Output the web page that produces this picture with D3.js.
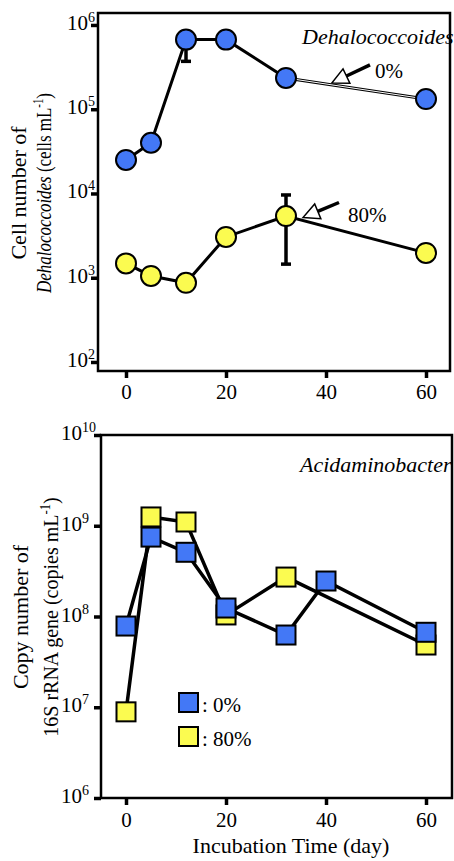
<!DOCTYPE html>
<html>
<head>
<meta charset="utf-8">
<script src="https://cdn.jsdelivr.net/npm/d3@7"></script>
<style>
  body { margin: 0; background: #fff; }
  svg { display: block; font-family: "Liberation Serif", "Times New Roman", serif; }
</style>
</head>
<body>
<div id="chart"></div>
<script>
// --- data ---
var dehaloDays = [0, 5, 12, 20, 32, 60];
var dehalo0 = [2.5e4, 4.0e4, 6.7e5, 6.7e5, 2.35e5, 1.32e5];
var dehalo80 = [1.48e3, 1.05e3, 8.7e2, 3.05e3, 5.4e3, 1.97e3];
var dehaloErr0 = [{ day: 12, lo: 3.7e5, hi: null }];
var dehaloErr80 = [{ day: 32, lo: 1.45e3, hi: 9.6e3 }];

var acidDays0 = [0, 5, 12, 20, 32, 40, 60];
var acid0 = [7.85e7, 7.5e8, 5.1e8, 1.24e8, 6.25e7, 2.46e8, 6.7e7];
var acidDays80 = [0, 5, 12, 20, 32, 60];
var acid80 = [8.9e6, 1.25e9, 1.1e9, 1.04e8, 2.72e8, 4.85e7];

var dayTicks = [0, 20, 40, 60];
var topExps = [2, 3, 4, 5, 6];
var botExps = [6, 7, 8, 9, 10];

var BLUE = "#4378f6", YELLOW = "#fbfb50";

var svg = d3.select("#chart").append("svg")
  .attr("width", 454)
  .attr("height", 861);

function zip(xs, ys) { return xs.map(function(d, i) { return { day: d, v: ys[i] }; }); }

// value on a log-scale polyline at a given day
function logInterp(xs, ys, day) {
  for (var i = 0; i < xs.length - 1; i++) {
    if (day >= xs[i] && day <= xs[i + 1]) {
      var t = (day - xs[i]) / (xs[i + 1] - xs[i]);
      return Math.pow(10, Math.log10(ys[i]) + t * (Math.log10(ys[i + 1]) - Math.log10(ys[i])));
    }
  }
  return ys[ys.length - 1];
}

function frame(x, y, exps, xPad, labelX) {
  var g = svg.append("g");
  var x0 = x.range()[0], x1 = x.range()[1], yb = y.range()[0], yt = y.range()[1];

  g.append("g")
    .attr("transform", "translate(0," + yb + ")")
    .call(d3.axisBottom(x).tickValues(dayTicks).tickSize(7).tickPadding(xPad))
    .call(function(a) {
      a.select(".domain").remove();
      a.selectAll("line").attr("stroke-width", 3.5);
      a.selectAll("text").attr("font-size", 21).attr("font-family", "Liberation Serif, serif").attr("fill", "#000");
    });

  g.append("g")
    .attr("transform", "translate(" + x0 + ",0)")
    .call(d3.axisLeft(y).tickValues(exps.map(function(e) { return Math.pow(10, e); })).tickSize(7).tickFormat(""))
    .call(function(a) {
      a.select(".domain").remove();
      a.selectAll("line").attr("stroke-width", 3.5);
    });

  var lab = g.selectAll(".ylab").data(exps).enter().append("text")
    .attr("x", labelX)
    .attr("y", function(e) { return y(Math.pow(10, e)) + 5; })
    .attr("font-size", 21)
    .attr("fill", "#000");
  lab.append("tspan").text("10");
  lab.append("tspan").attr("dy", -8).attr("font-size", 14).text(function(e) { return e; });

  g.append("rect")
    .attr("x", x0).attr("y", yt)
    .attr("width", x1 - x0).attr("height", yb - yt)
    .attr("fill", "none").attr("stroke", "#000").attr("stroke-width", 2.5);
  return g;
}

function ylabel(cy, sx1, sx2, dx1, dx2, build1, build2) {
  var t1 = svg.append("text")
    .attr("transform", "translate(" + dx1 + "," + cy + ") rotate(-90) scale(" + sx1 + ",1)")
    .attr("text-anchor", "middle").attr("font-size", 22).attr("fill", "#000");
  build1(t1);
  var t2 = svg.append("text")
    .attr("transform", "translate(" + dx2 + "," + cy + ") rotate(-90) scale(" + sx2 + ",1)")
    .attr("text-anchor", "middle").attr("font-size", 22).attr("fill", "#000");
  build2(t2);
}

function unitTail(t, word) {
  t.append("tspan").text(" (" + word + " mL");
  t.append("tspan").attr("dy", -8).attr("font-size", 14).text("-1");
  t.append("tspan").attr("dy", 8).text(")");
}

var line = function(x, y) {
  return d3.line().x(function(d) { return x(d.day); }).y(function(d) { return y(d.v); });
};

// ================= top panel: Dehalococcoides =================
var xT = d3.scaleLinear().domain([-5.6, 64.8]).range([98, 450]);
var yT = d3.scaleLog().domain([Math.pow(10, 1.893), Math.pow(10, 6.142)]).range([371, 13]);
var gT = frame(xT, yT, topExps, 6, 67);

var lT = line(xT, yT);
[dehalo0, dehalo80].forEach(function(s) {
  gT.append("path").datum(zip(dehaloDays, s))
    .attr("d", lT).attr("fill", "none").attr("stroke", "#000").attr("stroke-width", 3);
});
// hollow look of the last 0% segment
gT.append("path").datum(zip(dehaloDays.slice(4), dehalo0.slice(4)))
  .attr("d", lT).attr("fill", "none").attr("stroke", "#fff").attr("stroke-width", 1);

function errBars(g, errs, vals, x, y) {
  errs.forEach(function(e) {
    var cx = x(e.day), mid = vals[dehaloDays.indexOf(e.day)];
    [e.lo, e.hi].forEach(function(v) {
      if (v == null) return;
      g.append("line").attr("x1", cx).attr("x2", cx)
        .attr("y1", y(v)).attr("y2", y(mid))
        .attr("stroke", "#000").attr("stroke-width", 3.5);
      g.append("line").attr("x1", cx - 5).attr("x2", cx + 5)
        .attr("y1", y(v)).attr("y2", y(v))
        .attr("stroke", "#000").attr("stroke-width", 3.5);
    });
  });
}
errBars(gT, dehaloErr0, dehalo0, xT, yT);
errBars(gT, dehaloErr80, dehalo80, xT, yT);

[[dehalo0, BLUE], [dehalo80, YELLOW]].forEach(function(p) {
  gT.selectAll(null).data(zip(dehaloDays, p[0])).enter().append("circle")
    .attr("cx", function(d) { return xT(d.day); })
    .attr("cy", function(d) { return yT(d.v); })
    .attr("r", 10)
    .attr("fill", p[1]).attr("stroke", "#000").attr("stroke-width", 2);
});

// arrow annotations
function arrow(g, tx, ty, dx, dy, label, lx, ly) {
  var len = Math.sqrt(dx * dx + dy * dy), ux = dx / len, uy = dy / len;
  var hl = 16, hw = 8;
  var bx = tx + ux * hl, by = ty + uy * hl;
  g.append("line").attr("x1", bx).attr("y1", by).attr("x2", tx + dx).attr("y2", ty + dy)
    .attr("stroke", "#000").attr("stroke-width", 3.5);
  g.append("path")
    .attr("d", "M" + tx + "," + ty + "L" + (bx - uy * hw) + "," + (by + ux * hw) +
      "L" + (bx + uy * hw) + "," + (by - ux * hw) + "Z")
    .attr("fill", "#fff").attr("stroke", "#000").attr("stroke-width", 1.5);
  g.append("text").attr("x", tx + lx).attr("y", ty + ly)
    .attr("font-size", 21).attr("fill", "#000").text(label);
}
arrow(gT, xT(41.2), yT(logInterp(dehaloDays, dehalo0, 41.2)) - 2, 38, -18, "0%", 43, -5);
arrow(gT, xT(35.4), yT(logInterp(dehaloDays, dehalo80, 35.4)) - 3, 36, -15, "80%", 45, 4);

gT.append("text").attr("x", 302).attr("y", 44)
  .attr("font-size", 22).attr("font-style", "italic").attr("fill", "#000")
  .text("Dehalococcoides");

ylabel(193, 1, 0.77, 26, 51,
  function(t) { t.text("Cell number of"); },
  function(t) {
    t.append("tspan").attr("font-style", "italic").text("Dehalococcoides");
    unitTail(t, "cells");
  });

// ================= bottom panel: Acidaminobacter =================
var xB = d3.scaleLinear().domain([-5, 65.2]).range([101, 452]);
var yB = d3.scaleLog().domain([1e6, 1e10]).range([798, 435]);
var gB = frame(xB, yB, botExps, 7, 61);

var lB = line(xB, yB);
gB.append("path").datum(zip(acidDays80, acid80))
  .attr("d", lB).attr("fill", "none").attr("stroke", "#000").attr("stroke-width", 3.5);
gB.append("path").datum(zip(acidDays0, acid0))
  .attr("d", lB).attr("fill", "none").attr("stroke", "#000").attr("stroke-width", 3.5);

var SQ = 19;
[[acidDays80, acid80, YELLOW], [acidDays0, acid0, BLUE]].forEach(function(p) {
  gB.selectAll(null).data(zip(p[0], p[1])).enter().append("rect")
    .attr("x", function(d) { return xB(d.day) - SQ / 2; })
    .attr("y", function(d) { return yB(d.v) - SQ / 2; })
    .attr("width", SQ).attr("height", SQ)
    .attr("fill", p[2]).attr("stroke", "#000").attr("stroke-width", 2);
});

// legend
var legend = gB.append("g").attr("transform", "translate(179,693)");
[[BLUE, ": 0%"], [YELLOW, ": 80%"]].forEach(function(p, i) {
  legend.append("rect").attr("x", 0).attr("y", i * 34).attr("width", SQ).attr("height", SQ)
    .attr("fill", p[0]).attr("stroke", "#000").attr("stroke-width", 2);
  legend.append("text").attr("x", 23).attr("y", i * 34 + 19)
    .attr("font-size", 21).attr("fill", "#000").text(p[1]);
});

gB.append("text").attr("x", 300).attr("y", 472)
  .attr("font-size", 22).attr("font-style", "italic").attr("fill", "#000")
  .text("Acidaminobacter");

ylabel(617, 1, 0.91, 28, 58,
  function(t) { t.text("Copy number of"); },
  function(t) {
    t.append("tspan").text("16S rRNA gene");
    unitTail(t, "copies");
  });

svg.append("text").attr("x", 291).attr("y", 853)
  .attr("text-anchor", "middle").attr("font-size", 22).attr("fill", "#000")
  .text("Incubation Time (day)");
</script>
</body>
</html>
